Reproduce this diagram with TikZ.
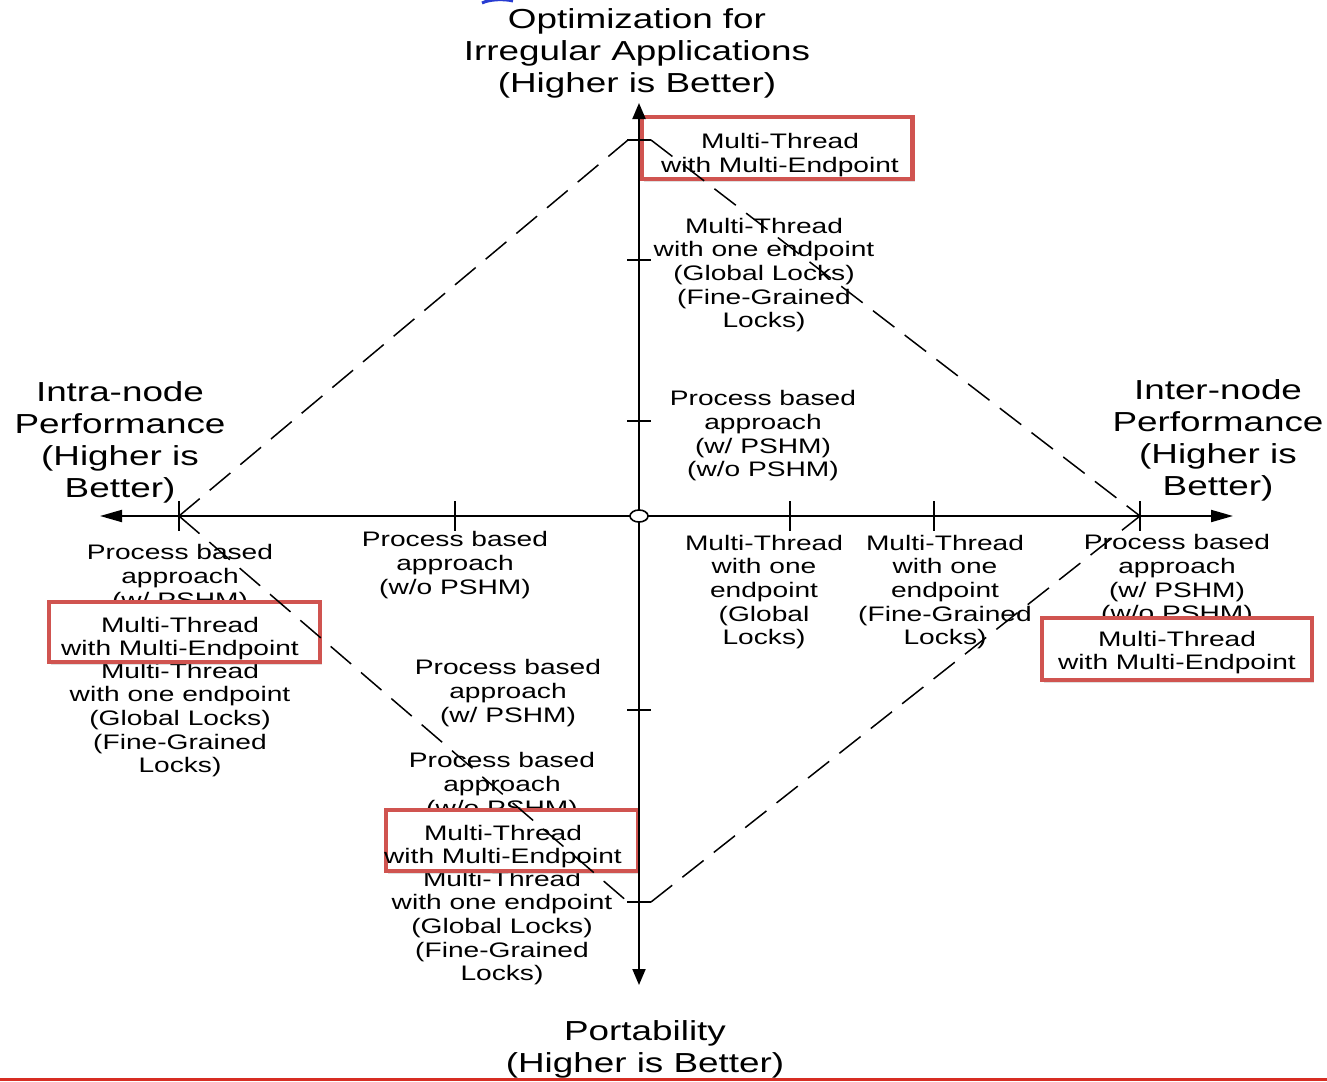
\documentclass[tikz,border=0pt]{standalone}
\usepackage{fontspec}
\newfontfamily\wfont[FakeStretch=1.34]{Liberation Sans}
\usetikzlibrary{arrows.meta,shadows,shapes.geometric}
\definecolor{boxred}{RGB}{208,84,80}
\begin{document}
\begin{tikzpicture}[x=1pt,y=-1pt,
  big/.style={font=\wfont\fontsize{27.5}{32}\selectfont, align=center, inner sep=0pt},
  small/.style={font=\wfont\fontsize{21}{23.7}\selectfont, align=center, inner sep=0pt},
  redbox/.style={draw=boxred, line width=4.5pt, fill=white, inner sep=0pt,
    drop shadow={shadow xshift=2pt, shadow yshift=-3pt, opacity=0.25}},
  axis/.style={line width=2pt},
  tickmark/.style={line width=1.4pt},
  dashline/.style={line width=1.5pt, dash pattern=on 27pt off 13pt},
]
\useasboundingbox (0,0) rectangle (1327,1081);
\fill[white] (0,0) rectangle (1327,1081);

% artefacts at the edges
\draw[color={rgb,255:red,40;green,60;blue,210}, line width=3pt] (482,3) .. controls (490,-1) and (505,-1) .. (513,1);
\draw[color={rgb,255:red,215;green,45;blue,35}, line width=2.2pt] (0,1079.5) -- (1327,1079.5);

% axis titles
\node[big] (ttop) at (637,53) {Optimization for\\Irregular Applications\\(Higher is Better)};
\node[big] (tleft) at (120,442) {Intra-node\\Performance\\(Higher is\\Better)};
\node[big] (tright) at (1218,440) {Inter-node\\Performance\\(Higher is\\Better)};
\node[big] (tbot) at (645,1049) {Portability\\(Higher is Better)};

% labels
\node[small] (t1) at (764,275) {Multi-Thread\\with one endpoint\\(Global Locks)\\(Fine-Grained\\Locks)};
\node[small] (t2) at (763,436) {Process based\\approach\\(w/ PSHM)\\(w/o PSHM)};
\node[small] (l1) at (180,578) {Process based\\approach\\(w/ PSHM)};
\node[small] (l2) at (180,720) {Multi-Thread\\with one endpoint\\(Global Locks)\\(Fine-Grained\\Locks)};
\node[small] (h1) at (455,565) {Process based\\approach\\(w/o PSHM)};
\node[small] (v1) at (508,693) {Process based\\approach\\(w/ PSHM)};
\node[small] (v2) at (502,786) {Process based\\approach\\(w/o PSHM)};
\node[small] (v3) at (502,928) {Multi-Thread\\with one endpoint\\(Global Locks)\\(Fine-Grained\\Locks)};
\node[small] (h2) at (764,592) {Multi-Thread\\with one\\endpoint\\(Global\\Locks)};
\node[small] (h3) at (945,592) {Multi-Thread\\with one\\endpoint\\(Fine-Grained\\Locks)};
\node[small] (r1) at (1177,580) {Process based\\approach\\(w/ PSHM)\\(w/o PSHM)};

% red boxes
\node[redbox, minimum width=271pt, minimum height=62pt] (b1) at (777,148) {};
\node[redbox, minimum width=271pt, minimum height=60pt] (b2) at (184.5,632) {};
\node[redbox, minimum width=252pt, minimum height=61pt] (b3) at (512,840.5) {};
\node[redbox, minimum width=270pt, minimum height=62pt] (b4) at (1177,649) {};
\node[small] (b1t) at (780,155) {Multi-Thread\\with Multi-Endpoint};
\node[small] (b2t) at (180,638.5) {Multi-Thread\\with Multi-Endpoint};
\node[small] (b3t) at (503,846.5) {Multi-Thread\\with Multi-Endpoint};
\node[small] (b4t) at (1177,652.5) {Multi-Thread\\with Multi-Endpoint};

% diamond
\coordinate (dL) at (179,516);
\coordinate (dTl) at (628,140);
\coordinate (dTr) at (651,140);
\coordinate (dR) at (1140,516);
\coordinate (dBl) at (628,902);
\coordinate (dBr) at (651,902);
\draw[dashline] (dL) -- (dTl);
\draw[dashline] (dTr) -- (dR);
\draw[dashline] (dL) -- (dBl);
\draw[dashline] (dBr) -- (dR);

% axes
\coordinate (xL) at (100,516);
\coordinate (xR) at (1233,516);
\coordinate (yT) at (639,103);
\coordinate (yB) at (639,985);
\draw[axis, {Triangle[length=22pt,width=12pt]}-{Triangle[length=22pt,width=12pt]}] (xL) -- (xR);
\draw[axis, {Triangle[length=16pt,width=13pt]}-{Triangle[length=16pt,width=13pt]}] (yB) -- (yT);

% ticks
\foreach \yy in {140,260,421,710,902} \draw[tickmark] (627,\yy) -- (651,\yy);
\foreach \xx in {179,455,790,934,1140} \draw[tickmark] (\xx,501) -- (\xx,531);

% origin
\node[ellipse, draw, fill=white, line width=1.6pt, minimum width=18pt, minimum height=12pt, inner sep=0pt] (orig) at (639,516) {};
\end{tikzpicture}
\end{document}
